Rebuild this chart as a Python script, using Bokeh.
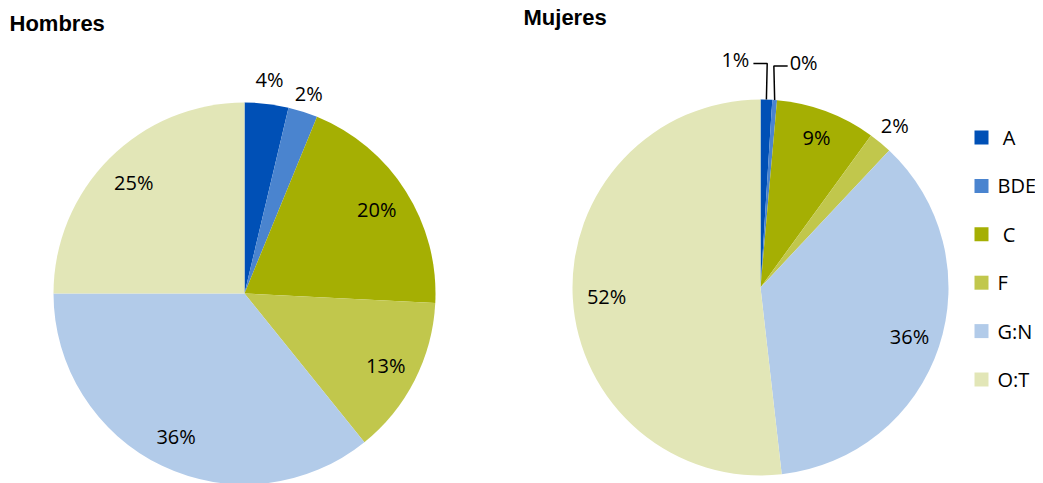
import math
from bokeh.plotting import figure
from bokeh.models import Range1d
from bokeh.core.properties import value
from bokeh.embed import file_html
from bokeh.resources import INLINE

# ---------------- data ----------------
categories = ["A", "BDE", "C", "F", "G:N", "O:T"]
legend_labels = ["\u00a0A", "BDE", "\u00a0C", "F", "G:N", "O:T"]
hombres = [3.7, 2.5, 19.6, 13.4, 35.8, 25.0]
mujeres = [1.0, 0.4, 8.6, 2.0, 36.2, 51.8]
hombres_labels = ["4%", "2%", "20%", "13%", "36%", "25%"]
mujeres_labels = ["1%", "0%", "9%", "2%", "36%", "52%"]
colors = ["#0050B6", "#4A84CF", "#A5AF03", "#C1C74C", "#B2CBE9", "#E2E6B7"]

W, H = 1035, 483
OFF = 0


def px(x):
    return x - OFF


def py(y):
    return (H + OFF) - y


p = figure(width=W, height=H, x_range=Range1d(0, W), y_range=Range1d(0, H),
           output_backend="svg", toolbar_location=None, min_border=0)
p.axis.visible = False
p.grid.visible = False
p.outline_line_color = None
p.background_fill_color = "white"
p.border_fill_color = "white"

FONT = value("Open Sans")
LABEL_SIZE = "20px"


def draw_pie(vals, labels, cx, cy, r, radial, special=None):
    tot = sum(vals)
    cum = 0.0
    starts, ends, mids = [], [], []
    for v in vals:
        a0 = cum / tot
        cum += v
        a1 = cum / tot
        starts.append(math.pi / 2 - 2 * math.pi * a0)
        ends.append(math.pi / 2 - 2 * math.pi * a1)
        mids.append((a0 + a1) / 2)
    p.wedge(x=px(cx), y=py(cy), radius=r, start_angle=starts, end_angle=ends,
            direction="clock", fill_color=colors, line_color=None)
    lx, ly, lt = [], [], []
    for i, (m, t) in enumerate(zip(mids, labels)):
        if special and i in special:
            continue
        th = 2 * math.pi * m
        rr = radial[i] * r
        lx.append(px(cx) + rr * math.sin(th))
        ly.append(py(cy) + rr * math.cos(th))
        lt.append(t)
    p.text(x=lx, y=ly, text=lt, text_font=FONT, text_font_size=LABEL_SIZE,
           text_align="center", text_baseline="middle", text_color="#000000")
    return mids


# Hombres
rH = 191
draw_pie(hombres, hombres_labels, 244, 293, rH,
         [1.13, 1.10, 0.82, 0.83, 0.83, 0.82])

# Mujeres
rM = 188
cxM, cyM = 760, 287
mids = draw_pie(mujeres, mujeres_labels, cxM, cyM, rM,
                [1.0, 1.0, 0.85, 1.12, 0.835, 0.82], special={0, 1})

# leader-line labels for the two thin Mujeres slices
for i, side, rise, gap in ((0, -1, 36, 4), (1, 1, 34, 2)):
    th = 2 * math.pi * mids[i]
    ex = px(cxM) + rM * math.sin(th)
    ey = py(cyM) + rM * math.cos(th)
    ty = ey + rise
    hx = ex + side * 13
    p.line(x=[ex, ex - side * 0.8, hx], y=[ey, ty, ty], line_color="#000000", line_width=1.5)
    p.text(x=[hx + side * gap], y=[ty + 4], text=[mujeres_labels[i]], text_font=FONT,
           text_font_size=LABEL_SIZE, text_align="left" if side > 0 else "right",
           text_baseline="middle", text_color="#000000")

# titles
p.text(x=[px(9)], y=[py(23)], text=["Hombres"], text_font=value("Liberation Sans"),
       text_font_style="bold", text_font_size="22px", text_baseline="middle",
       text_color="#000000")
p.text(x=[px(523)], y=[py(17)], text=["Mujeres"], text_font=value("Liberation Sans"),
       text_font_style="bold", text_font_size="22px", text_baseline="middle",
       text_color="#000000")

# legend
leg_y0, leg_dy = 137, 48.4
ys = [py(leg_y0 + k * leg_dy) for k in range(len(categories))]
p.rect(x=[px(981)] * len(categories), y=ys, width=14, height=14,
       fill_color=colors, line_color=None)
p.text(x=[px(997)] * len(categories), y=ys, text=legend_labels, text_font=FONT,
       text_font_size="20px", text_baseline="middle", text_color="#000000")

open("out.html", "w").write(file_html(p, INLINE))
